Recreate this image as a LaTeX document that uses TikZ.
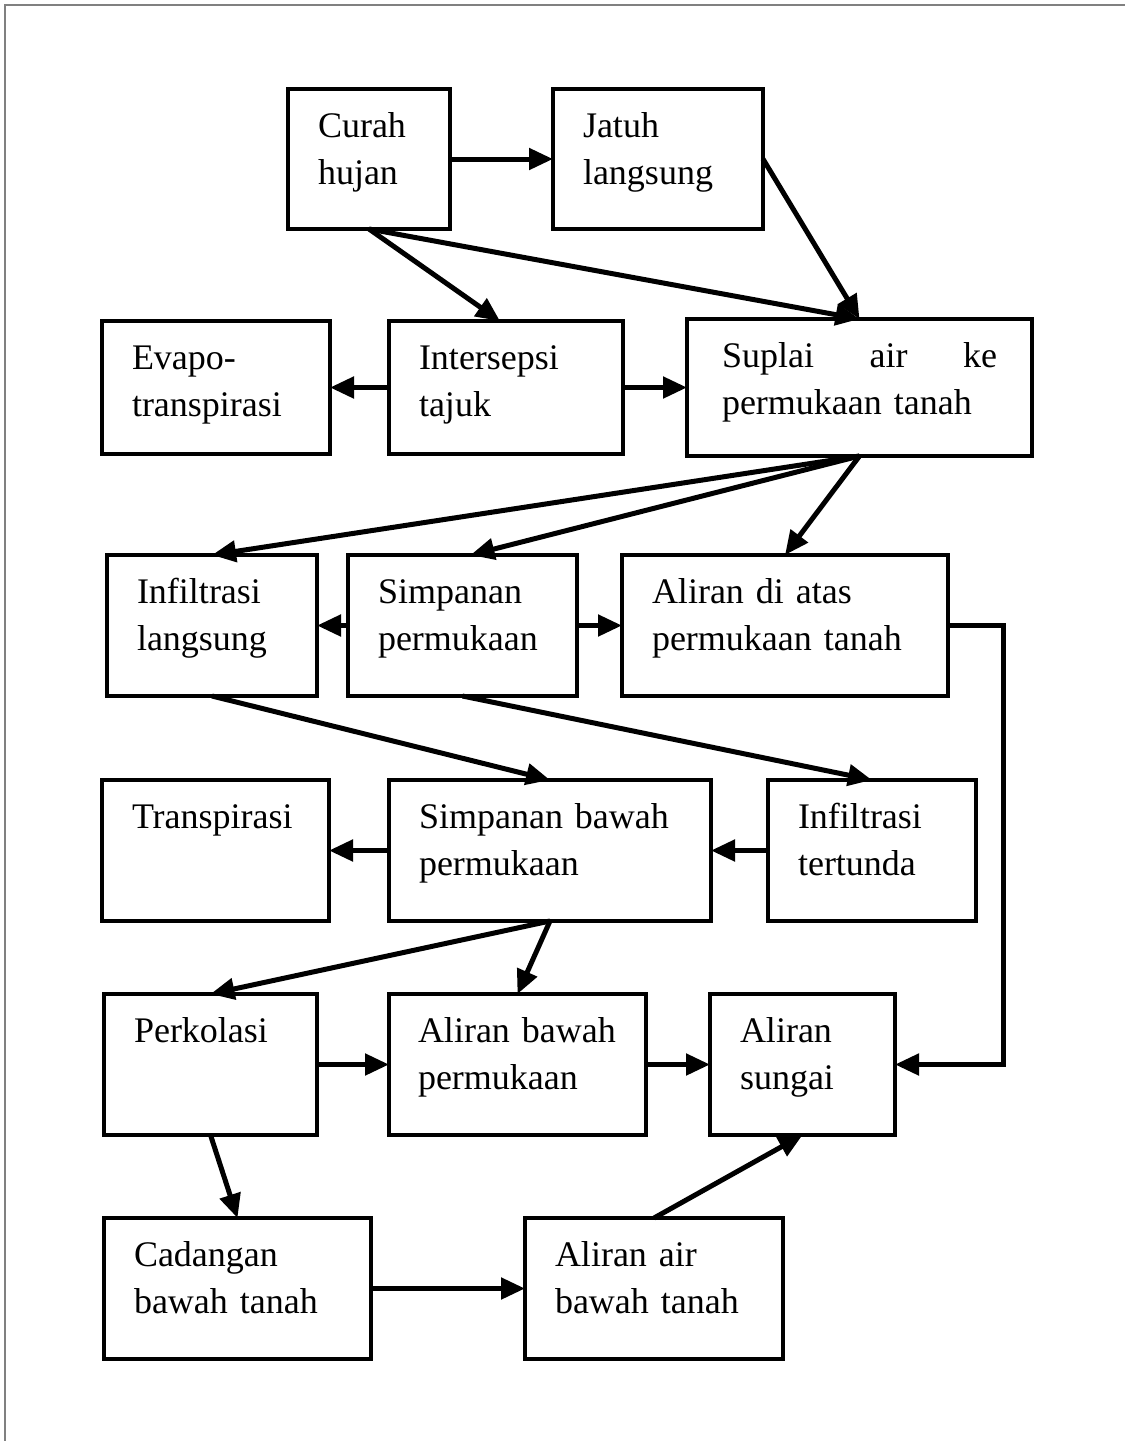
\documentclass[tikz,border=0pt]{standalone}
\usepackage{fontspec}
\setmainfont{Liberation Serif}
\usetikzlibrary{arrows.meta, positioning}

\begin{document}
\begin{tikzpicture}[x=1pt, y=-1pt]

% Gaya
\tikzset{
    kotak/.style={rectangle, draw, line width=4pt, outer sep=0pt, inner xsep=30pt, inner ysep=0pt, align=left, text height=48pt, text depth=93pt, font=\fontsize{36pt}{47pt}\selectfont},
    panah/.style={-{Triangle[length=24pt, width=21pt]}, line width=5pt}
}

\useasboundingbox (0,0) rectangle (1125,1441);
\draw [gray, line width=1.5pt] (5,1441) -- (5,5) -- (1125,5);

% Kotak
\node (curah) [kotak, text depth=92pt, text width=102pt, anchor=north west] at (288,89) {Curah\\hujan};
\node (jatuh) [kotak, text depth=92pt, text width=150pt, right=103pt of curah] {Jatuh\\langsung};

\node (evapo) [kotak, text depth=85pt, text width=168pt, anchor=north west] at (102,321) {Evapo-\\transpirasi};
\node (intersepsi) [kotak, text depth=85pt, text width=174pt, right=59pt of evapo] {Intersepsi\\tajuk};
\node (suplai) [kotak, text depth=89pt, inner xsep=35pt, text width=275pt, right=64pt of intersepsi] {Suplai\hfill air\hfill ke\\permukaan tanah};

\node (inflangsung) [kotak, text width=150pt, anchor=north west] at (107,555) {Infiltrasi\\langsung};
\node (simpperm) [kotak, text width=169pt, right=31pt of inflangsung] {Simpanan\\permukaan};
\node (alirdiatas) [kotak, text width=266pt, right=45pt of simpperm] {Aliran di atas\\permukaan tanah};

\node (transpirasi) [kotak, text width=167pt, anchor=north west] at (102,780) {Transpirasi};
\node (simpbawah) [kotak, text width=262pt, right=60pt of transpirasi] {Simpanan bawah\\permukaan};
\node (tertunda) [kotak, text width=148pt, right=57pt of simpbawah] {Infiltrasi\\tertunda};

\node (perkolasi) [kotak, text width=153pt, anchor=north west] at (104,994) {Perkolasi};
\node (alirbawah) [kotak, inner xsep=29pt, text width=199pt, right=72pt of perkolasi] {Aliran bawah\\permukaan};
\node (sungai) [kotak, text width=125pt, right=64pt of alirbawah] {Aliran\\sungai};

\node (cadangan) [kotak, text width=207pt, anchor=north west] at (104,1218) {Cadangan\\bawah tanah};
\node (alirair) [kotak, text width=198pt, right=154pt of cadangan] {Aliran air\\bawah tanah};

% Panah
\draw [panah] (curah) -- (jatuh);
\draw [panah] (jatuh.east) -- (suplai.north);
\draw [panah] (curah.south) -- (suplai.north);
\draw [panah] (curah.south) -- ([xshift=-6pt]intersepsi.north);
\draw [panah] (intersepsi) -- (evapo);
\draw [panah] (intersepsi.east) -- (suplai.west);
\draw [panah] (suplai.south) -- (inflangsung.north);
\draw [panah] (suplai.south) -- ([xshift=8pt]simpperm.north);
\draw [panah] (suplai.south) -- (alirdiatas.north);
\draw [panah] (simpperm) -- (inflangsung);
\draw [panah] (simpperm) -- (alirdiatas);
\draw [panah] (alirdiatas.east) -- ++(55,0) |- (sungai.east);
\draw [panah] (inflangsung.south) -- (simpbawah.north);
\draw [panah] (simpperm.south) -- (tertunda.north);
\draw [panah] (simpbawah) -- (transpirasi);
\draw [panah] (tertunda) -- (simpbawah);
\draw [panah] (simpbawah.south) -- (perkolasi.north);
\draw [panah] (simpbawah.south) -- (alirbawah.north);
\draw [panah] (perkolasi) -- (alirbawah);
\draw [panah] (alirbawah) -- (sungai);
\draw [panah] (perkolasi.south) -- (cadangan.north);
\draw [panah] (cadangan) -- (alirair);
\draw [panah] (alirair.north) -- (sungai.south);

\end{tikzpicture}
\end{document}
